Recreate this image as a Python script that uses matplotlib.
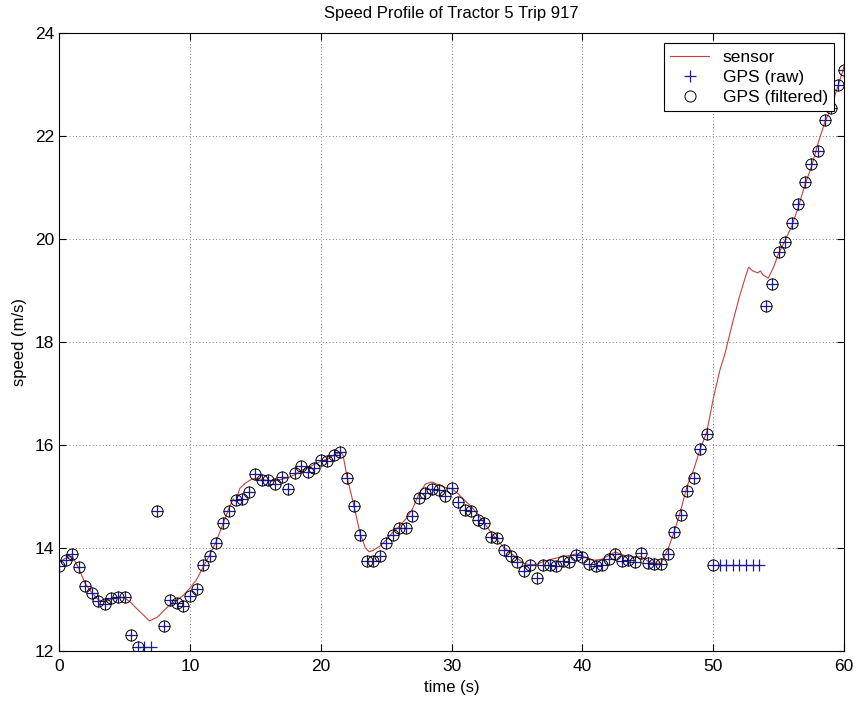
import numpy as np
import matplotlib
matplotlib.use("Agg")
import matplotlib.pyplot as plt

plt.rcParams['font.family'] = ['Liberation Sans', 'DejaVu Sans']

# GPS samples every 0.5 s
gps_time = np.arange(0, 60.5, 0.5)
gps_raw = [
    13.65, 13.77, 13.88, 13.62, 13.25, 13.13, 12.96, 12.91, 13.02, 13.05,
    13.04, 12.31, 12.08, 12.08, 12.08, 14.72, 12.49, 12.99, 12.93, 12.87,
    13.07, 13.20, 13.67, 13.84, 14.10, 14.49, 14.72, 14.92, 14.95, 15.09,
    15.43, 15.32, 15.32, 15.24, 15.37, 15.14, 15.46, 15.58, 15.47, 15.55,
    15.70, 15.69, 15.81, 15.86, 15.36, 14.82, 14.25, 13.75, 13.75, 13.84,
    14.10, 14.25, 14.38, 14.39, 14.61, 14.97, 15.07, 15.14, 15.13, 15.00,
    15.16, 14.88, 14.74, 14.71, 14.54, 14.49, 14.20, 14.19, 13.96, 13.84,
    13.73, 13.54, 13.67, 13.42, 13.67, 13.66, 13.65, 13.75, 13.73, 13.86,
    13.83, 13.69, 13.64, 13.66, 13.78, 13.88, 13.75, 13.77, 13.72, 13.90,
    13.70, 13.69, 13.69, 13.88, 14.30, 14.64, 15.11, 15.35, 15.92, 16.21,
    13.67, 13.67, 13.67, 13.67, 13.67, 13.67, 13.67, 13.67, 18.69, 19.12,
    19.74, 19.94, 20.30, 20.67, 21.11, 21.46, 21.70, 22.31, 22.54, 22.99,
    23.28,
]
# raw samples that have no filtered value
rejected_times = [6.5, 7.0, 50.5, 51.0, 51.5, 52.0, 52.5, 53.0, 53.5]

sensor_time = [
    0.0, 0.5, 1.0, 1.5, 2.0, 2.5, 3.0, 3.5, 4.0, 4.5, 5.0, 5.5, 6.0, 6.5, 6.9,
    7.5, 8.0, 8.5, 9.0, 9.5, 10.0, 10.5, 11.0, 11.5, 12.0, 12.5, 13.0, 13.3,
    13.5, 13.8, 14.2, 14.7, 15.0, 15.5, 16.0, 16.5, 17.0, 17.5, 18.0, 18.5,
    19.0, 19.5, 20.0, 20.5, 21.0, 21.5, 21.7, 22.0, 22.5, 23.0, 23.4, 23.7,
    24.0, 24.5, 25.0, 25.5, 26.0, 26.5, 27.0, 27.5, 28.0, 28.5, 29.0, 29.5,
    30.0, 30.5, 31.0, 31.5, 32.0, 32.5, 33.0, 33.5, 34.0, 34.5, 35.0, 35.5,
    36.0, 36.5, 37.0, 37.5, 38.0, 38.5, 39.0, 39.5, 40.0, 40.5, 41.0, 41.5,
    42.0, 42.5, 43.0, 43.5, 44.0, 44.5, 45.0, 45.5, 46.0, 46.5, 47.0, 47.5,
    48.0, 48.5, 49.0, 49.5, 50.0, 50.5, 50.9, 51.5, 52.0, 52.5, 52.7, 53.0,
    53.4, 53.6, 53.8, 54.2, 54.6, 55.0, 55.5, 56.0, 56.5, 57.0, 57.5, 58.0,
    58.5, 59.0, 59.5, 60.0,
]
sensor_speed = [
    13.72, 13.80, 13.84, 13.60, 13.30, 13.13, 12.99, 12.95, 13.00, 13.04,
    13.03, 12.93, 12.80, 12.68, 12.58, 12.65, 12.78, 12.90, 12.98, 13.08,
    13.22, 13.38, 13.62, 13.86, 14.12, 14.45, 14.78, 14.95, 14.90, 15.15,
    15.25, 15.33, 15.35, 15.33, 15.30, 15.30, 15.33, 15.36, 15.42, 15.50,
    15.55, 15.62, 15.68, 15.72, 15.80, 15.86, 15.80, 15.38, 14.85, 14.28,
    14.00, 13.92, 13.95, 14.03, 14.15, 14.30, 14.42, 14.56, 14.75, 15.05,
    15.24, 15.28, 15.22, 15.17, 15.15, 15.05, 14.92, 14.80, 14.65, 14.48,
    14.30, 14.15, 14.00, 13.90, 13.80, 13.70, 13.67, 13.68, 13.73, 13.77,
    13.80, 13.83, 13.85, 13.88, 13.85, 13.77, 13.76, 13.78, 13.85, 13.92,
    13.87, 13.83, 13.82, 13.83, 13.74, 13.70, 13.70, 13.95, 14.30, 14.72,
    15.20, 15.52, 15.92, 16.25, 16.90, 17.45, 17.78, 18.40, 18.88, 19.30,
    19.45, 19.38, 19.34, 19.38, 19.30, 19.24, 19.45, 19.72, 19.98, 20.25,
    20.62, 21.05, 21.40, 21.85, 22.25, 22.55, 22.95, 23.35,
]

gps_raw = np.array(gps_raw)
gps_filtered = np.where(np.isin(gps_time, rejected_times), np.nan, gps_raw)

fig = plt.figure(figsize=(8.57, 7.02), dpi=100)
ax = fig.add_axes([0.069, 0.073, 0.916, 0.880])

ax.plot(sensor_time, sensor_speed, color='#c8403a', linewidth=0.8, label='sensor')
ax.plot(gps_time, gps_raw, linestyle='none', marker='+', color='#1a1aa0',
        markersize=8, markeredgewidth=0.9, label='GPS (raw)')
ax.plot(gps_time, gps_filtered, linestyle='none', marker='o', markerfacecolor='none',
        markeredgecolor='black', markersize=8, markeredgewidth=0.7, label='GPS (filtered)')

ax.set_xlim(0, 60)
ax.set_ylim(12, 24)
ax.set_xticks([0, 10, 20, 30, 40, 50, 60])
ax.set_yticks([12, 14, 16, 18, 20, 22, 24])
ax.tick_params(direction='in', top=True, right=True, length=5, labelsize=12.5)
ax.tick_params(axis='x', pad=6)
ax.grid(True, linestyle=(0, (1, 3)), color='#555555', linewidth=0.6)
for s in ax.spines.values():
    s.set_linewidth(0.8)

ax.set_title('Speed Profile of Tractor 5 Trip 917', fontsize=12, pad=11)
ax.set_xlabel('time (s)', fontsize=12, labelpad=4)
ax.set_ylabel('speed (m/s)', fontsize=12, labelpad=6)

leg = ax.legend(loc='upper right', fontsize=12.5, frameon=True, fancybox=False,
                edgecolor='black', framealpha=1, labelspacing=0.3,
                handlelength=2.2, handletextpad=0.8, borderpad=0.35,
                borderaxespad=0.6)
leg.get_frame().set_linewidth(0.8)

plt.savefig('out.png', dpi=100)
